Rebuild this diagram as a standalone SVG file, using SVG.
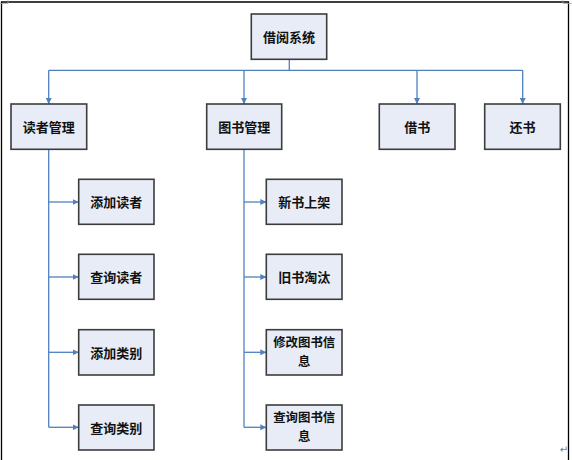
<svg xmlns="http://www.w3.org/2000/svg" width="572" height="460" viewBox="0 0 572 460">
<style>
.box{fill:#E7ECF6;stroke:#3C3C3C;stroke-width:1.6}
.t{font-family:"Noto Sans CJK SC","Noto Sans CJK TC",sans-serif;font-size:13px;font-weight:bold;fill:#111;text-anchor:middle;dominant-baseline:central}
.t2{font-size:12.4px}
.c{fill:none;stroke:#4F81BD;stroke-width:1.3}
</style>
<defs>
<marker id="ah" viewBox="0 0 8 8" refX="8" refY="4" markerWidth="6" markerHeight="6" markerUnits="userSpaceOnUse" orient="auto">
<path d="M0,0 L8,4 L0,8 z" fill="#4F81BD"/>
</marker>
</defs>
<rect x="0" y="0" width="572" height="460" fill="#fff"/>
<path d="M1.5,470 V2 H568.5 V470" fill="none" stroke="#000" stroke-width="1.3"/>
<path d="M0,3.5 H8 V0" fill="none" stroke="#aaa" stroke-width="0.8"/>
<path d="M563,0 V3.5 H572" fill="none" stroke="#aaa" stroke-width="0.8"/>
<text x="564" y="453" font-family="'DejaVu Sans',sans-serif" font-size="10" fill="#777" text-anchor="middle">↵</text>
<g id="connectors">
<path class="c" d="M289.3,59 V70.3"/>
<path class="c" d="M48.7,70.3 H522.7"/>
<path class="c" d="M48.7,70.3 V104" marker-end="url(#ah)"/>
<path class="c" d="M244,70.3 V104" marker-end="url(#ah)"/>
<path class="c" d="M417,70.3 V104" marker-end="url(#ah)"/>
<path class="c" d="M522.7,70.3 V104" marker-end="url(#ah)"/>
<path class="c" d="M48.7,149.3 V427.3"/>
<path class="c" d="M48.7,202 H78.7" marker-end="url(#ah)"/>
<path class="c" d="M48.7,277 H78.7" marker-end="url(#ah)"/>
<path class="c" d="M48.7,352.3 H78.7" marker-end="url(#ah)"/>
<path class="c" d="M48.7,427.3 H78.7" marker-end="url(#ah)"/>
<path class="c" d="M244,149.3 V427.3"/>
<path class="c" d="M244,202 H266.3" marker-end="url(#ah)"/>
<path class="c" d="M244,277 H266.3" marker-end="url(#ah)"/>
<path class="c" d="M244,352.3 H266.3" marker-end="url(#ah)"/>
<path class="c" d="M244,427.3 H266.3" marker-end="url(#ah)"/>
</g>
<g id="root"><rect class="box" x="251.3" y="14" width="75.4" height="45.3"/><text class="t" x="289" y="36.7">借阅系统</text></g>
<g id="reader"><rect class="box" x="11" y="104" width="75.7" height="45.3"/><text class="t" x="48.8" y="126.7">读者管理</text></g>
<g id="book"><rect class="box" x="206.7" y="104" width="75" height="45.3"/><text class="t" x="244.2" y="126.7">图书管理</text></g>
<g id="borrow"><rect class="box" x="379.3" y="104" width="75.7" height="45.3"/><text class="t" x="417.2" y="126.7">借书</text></g>
<g id="return"><rect class="box" x="484.7" y="104" width="75.6" height="45.3"/><text class="t" x="522.5" y="126.7">还书</text></g>
<g id="addReader"><rect class="box" x="78.7" y="179.3" width="75.3" height="45"/><text class="t" x="116.3" y="201.8">添加读者</text></g>
<g id="queryReader"><rect class="box" x="78.7" y="254.3" width="75.3" height="45"/><text class="t" x="116.3" y="276.8">查询读者</text></g>
<g id="addCategory"><rect class="box" x="78.7" y="329.7" width="75.3" height="45.3"/><text class="t" x="116.3" y="352.3">添加类别</text></g>
<g id="queryCategory"><rect class="box" x="78.7" y="405" width="75.3" height="45"/><text class="t" x="116.3" y="427.5">查询类别</text></g>
<g id="newBook"><rect class="box" x="266.3" y="179.3" width="75.7" height="45"/><text class="t" x="304.2" y="201.8">新书上架</text></g>
<g id="oldBook"><rect class="box" x="266.3" y="254.3" width="75.7" height="45"/><text class="t" x="304.2" y="276.8">旧书淘汰</text></g>
<g id="modifyBook"><rect class="box" x="266.3" y="329.7" width="75.7" height="45.3"/><text class="t t2" x="304.2" y="342.4">修改图书信<tspan x="304.2" dy="18.2">息</tspan></text></g>
<g id="queryBook"><rect class="box" x="266.3" y="405" width="75.7" height="45"/><text class="t t2" x="304.2" y="417.4">查询图书信<tspan x="304.2" dy="18.2">息</tspan></text></g>
</svg>
